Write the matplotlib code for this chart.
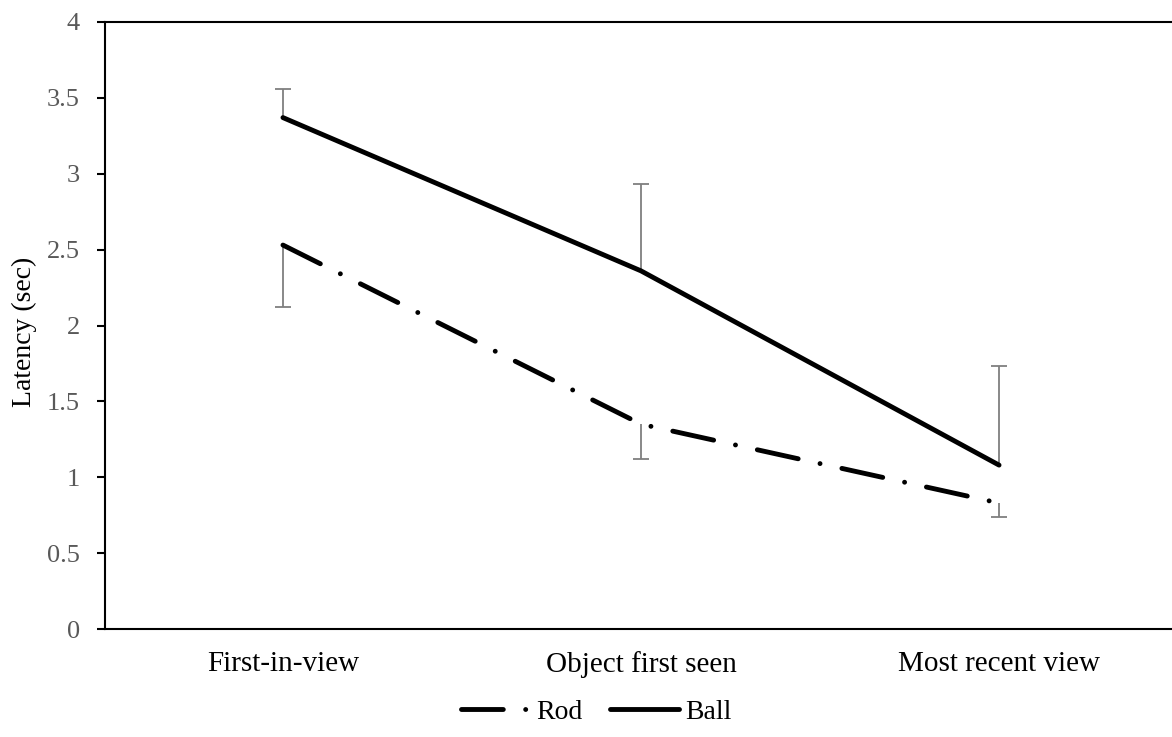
import matplotlib
matplotlib.use("Agg")
import matplotlib.pyplot as plt
import numpy as np

categories = ["First-in-view", "Object first seen", "Most recent view"]
rod = [2.53, 1.35, 0.83]
rod_err_down = [0.41, 0.23, 0.09]
ball = [3.37, 2.36, 1.08]
ball_err_up = [0.19, 0.57, 0.65]
yticks = [0, 0.5, 1, 1.5, 2, 2.5, 3, 3.5, 4]
ytick_labels = ["0", "0.5", "1", "1.5", "2", "2.5", "3", "3.5", "4"]

plt.rcParams['font.family'] = ['Liberation Serif', 'DejaVu Serif']

fig = plt.figure(figsize=(11.72, 7.37), dpi=100)
ax = fig.add_axes([105/1172, 1-629/737, 1-105/1172, (629-22)/737])

x = np.arange(len(categories))
grey = "#7f7f7f"

rod_a = np.array(rod)
ball_a = np.array(ball)
rod_lo = rod_a - np.array(rod_err_down)
ball_hi = ball_a + np.array(ball_err_up)

# one-sided error bars with caps only at the far end
ax.vlines(x, rod_lo, rod_a, color=grey, lw=1.3, zorder=2)
ax.vlines(x, ball_a, ball_hi, color=grey, lw=1.3, zorder=2)
ax.plot(x, rod_lo, ls='none', marker='_', ms=12, mew=1.3, color=grey, zorder=2)
ax.plot(x, ball_hi, ls='none', marker='_', ms=12, mew=1.3, color=grey, zorder=2)

ax.plot(x, rod, color='black', lw=3.5, linestyle=(0, (8.6, 4.6, 0.01, 4.6)),
        dash_capstyle='round', solid_capstyle='round', label='Rod', zorder=3)
ax.plot(x, ball, color='black', lw=3.5, solid_capstyle='round', label='Ball', zorder=3)

ax.set_xlim(-0.497, 2.483)
ax.set_ylim(0, 4)
ax.set_yticks(yticks)
ax.set_yticklabels(ytick_labels)
ax.set_xticks(x)
ax.set_xticklabels(categories)

for s in ['left', 'bottom', 'top']:
    ax.spines[s].set_linewidth(1.5)
    ax.spines[s].set_color('black')
ax.spines['right'].set_visible(False)

ax.tick_params(axis='y', direction='out', length=6, width=1.5, pad=12,
               labelsize=19, labelcolor='#595959')
ax.tick_params(axis='x', length=0, pad=16, labelsize=21, labelcolor='black')

ax.set_ylabel("Latency (sec)", fontsize=20)
ax.yaxis.set_label_coords(-0.064, 0.49)

fig.legend(loc='center', bbox_to_anchor=(596/1172, 1-712/737), ncol=2,
           frameon=False, fontsize=20, handlelength=2.5, handletextpad=0.2,
           columnspacing=1.0)

fig.savefig("out.png", dpi=100)
